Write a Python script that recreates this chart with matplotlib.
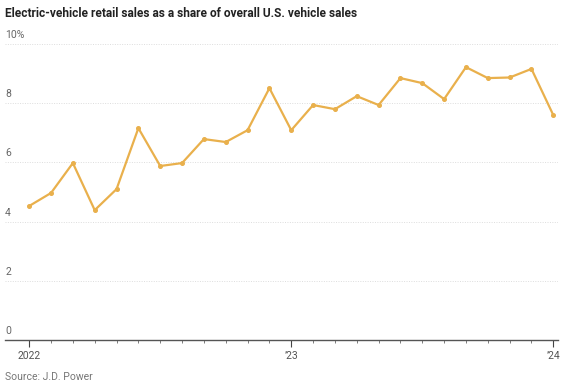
import matplotlib.pyplot as plt

months = list(range(25))  # Jan 2022 .. Jan 2024
share = [4.53, 4.97, 5.98, 4.39, 5.1, 7.16, 5.88, 5.98, 6.79, 6.69, 7.09, 8.51,
         7.09, 7.94, 7.8, 8.24, 7.94, 8.85, 8.68, 8.14, 9.22, 8.85, 8.87, 9.16, 7.6]
yticks = [0, 2, 4, 6, 8, 10]
ylabels = ["0", "2", "4", "6", "8", "10%"]
xticks = [0, 12, 24]
xlabels = ["2022", "\u201923", "\u201924"]

plt.rcParams['font.family'] = ['Roboto', 'DejaVu Sans']

fig = plt.figure(figsize=(5.75, 3.83), dpi=100)
ax = fig.add_axes([0.009, 0.112, 0.962, 0.773])

ax.plot(months, share, color="#E9B04C", lw=1.6, marker="o", ms=2.6, clip_on=False, zorder=3)

ax.set_xlim(-1.1, 24.23)
ax.set_ylim(0, 10)

for y, lab in zip(yticks, ylabels):
    if y > 0:
        ax.axhline(y, color="#dddddd", lw=0.7, ls=(0, (1, 1.5)), zorder=1)
    ax.annotate(lab, xy=(0, y), xycoords=("axes fraction", "data"), xytext=(0, 3),
                textcoords="offset points", ha="left", va="bottom",
                fontsize=7.5, color="#666666")

ax.set_yticks([])
ax.set_xticks(xticks)
ax.set_xticklabels(xlabels, fontsize=7.5, color="#555555")
ax.set_xticks(months, minor=True)
ax.tick_params(axis="x", which="major", length=5, width=0.8, color="#444444", pad=2.5)
ax.tick_params(axis="x", which="minor", length=2.5, width=0.6, color="#666666")

for s in ["left", "right", "top"]:
    ax.spines[s].set_visible(False)
ax.spines["bottom"].set_color("#555555")
ax.spines["bottom"].set_linewidth(1)

fig.text(0.009, 0.965, "Electric-vehicle retail sales as a share of overall U.S. vehicle sales",
         fontsize=8.6, fontweight="bold", color="#222222", ha="left", va="center")
fig.text(0.009, 0.003, "Source: J.D. Power", fontsize=7.5, color="#777777",
         ha="left", va="bottom")

fig.savefig("out.png", dpi=100)
